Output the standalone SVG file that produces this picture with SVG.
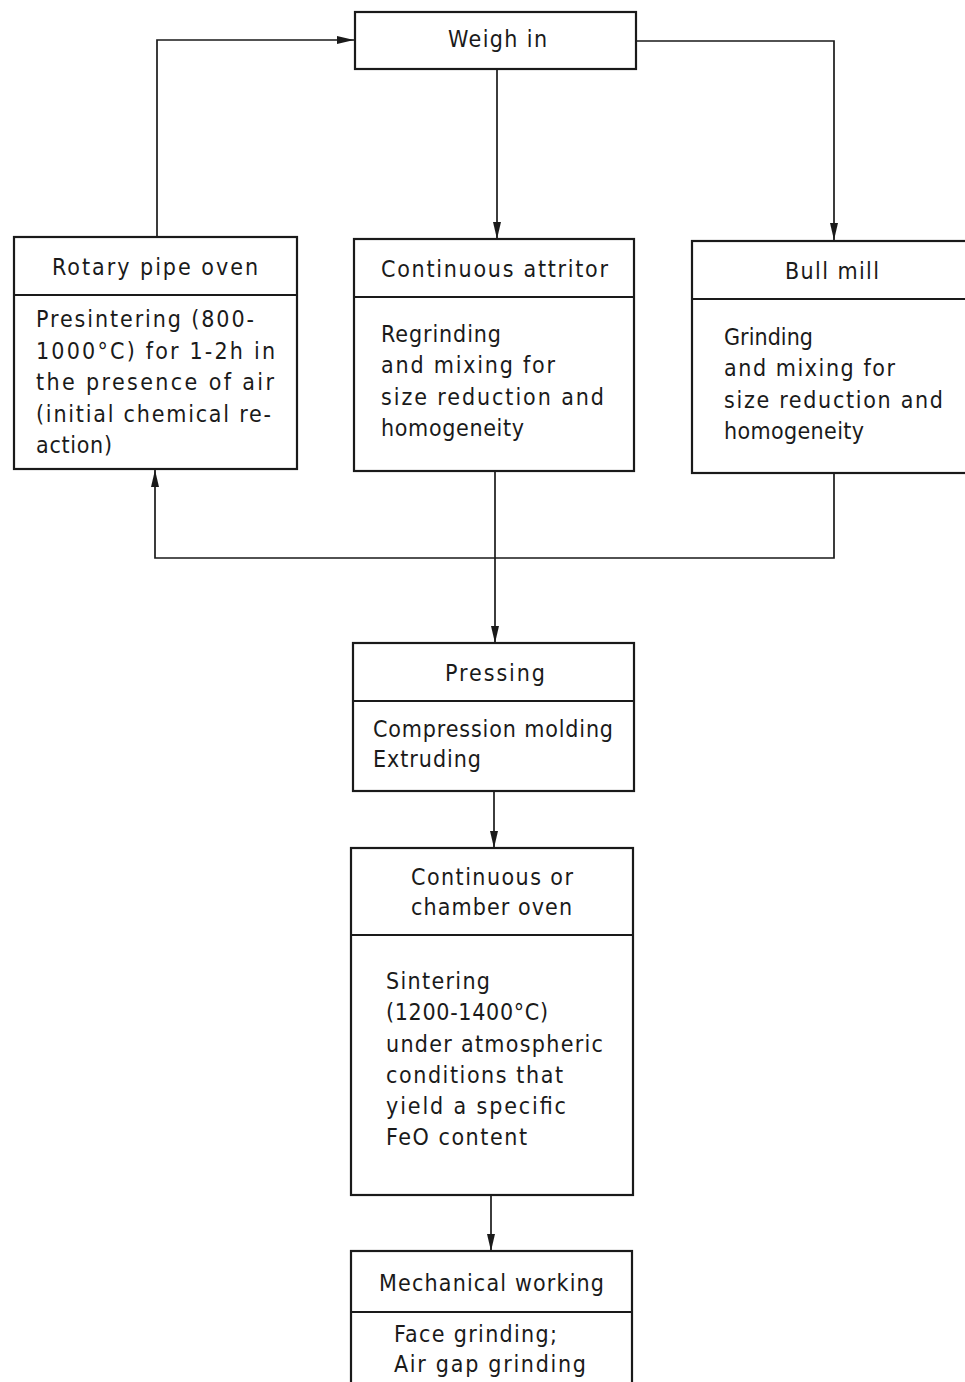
<svg xmlns="http://www.w3.org/2000/svg" width="965" height="1382" viewBox="0 0 965 1382">
<style>
.box{fill:#fff;stroke:#1a1a1a;stroke-width:2.2}
.div{stroke:#1a1a1a;stroke-width:2}
.c{fill:none;stroke:#1a1a1a;stroke-width:1.7}
text{font-family:"DejaVu Sans Condensed","DejaVu Sans","Liberation Sans",sans-serif;font-size:23px;fill:#1a1a1a}
</style>
<defs>
<marker id="ah" markerUnits="userSpaceOnUse" markerWidth="18" markerHeight="9" refX="17" refY="4.5" orient="auto">
<path d="M0,0.5 L17,4.5 L0,8.5 z" fill="#1a1a1a"/>
</marker>
</defs>
<rect width="965" height="1382" fill="#fff"/>
<g id="connectors">
<polyline class="c" points="157,237 157,40 354,40" marker-end="url(#ah)"/>
<polyline class="c" points="636,41 834,41 834,240" marker-end="url(#ah)"/>
<line class="c" x1="497" y1="69" x2="497" y2="239" marker-end="url(#ah)"/>
<line class="c" x1="495" y1="471" x2="495" y2="643" marker-end="url(#ah)"/>
<polyline class="c" points="834,473 834,558 155,558 155,470" marker-end="url(#ah)"/>
<line class="c" x1="494" y1="791" x2="494" y2="848" marker-end="url(#ah)"/>
<line class="c" x1="491" y1="1195" x2="491" y2="1251" marker-end="url(#ah)"/>
</g>
<g id="weigh-in">
<rect class="box" x="355" y="12" width="281" height="57"/>
<text x="448" y="47" textLength="99" lengthAdjust="spacing">Weigh in</text>
</g>
<g id="rotary-pipe-oven">
<rect class="box" x="14" y="237" width="283" height="232"/>
<line class="div" x1="14" y1="295" x2="297" y2="295"/>
<text x="52" y="275" textLength="206" lengthAdjust="spacing">Rotary pipe oven</text>
<text x="36" y="327" textLength="218" lengthAdjust="spacing">Presintering (800-</text>
<text x="36" y="359" textLength="239" lengthAdjust="spacing">1000°C) for 1-2h in</text>
<text x="36" y="390" textLength="238" lengthAdjust="spacing">the presence of air</text>
<text x="36" y="422" textLength="235" lengthAdjust="spacing">(initial chemical re-</text>
<text x="36" y="453" textLength="76" lengthAdjust="spacing">action)</text>
</g>
<g id="continuous-attritor">
<rect class="box" x="354" y="239" width="280" height="232"/>
<line class="div" x1="354" y1="297" x2="634" y2="297"/>
<text x="381" y="277" textLength="227" lengthAdjust="spacing">Continuous attritor</text>
<text x="381" y="342" textLength="120" lengthAdjust="spacing">Regrinding</text>
<text x="381" y="373" textLength="174" lengthAdjust="spacing">and mixing for</text>
<text x="381" y="405" textLength="223" lengthAdjust="spacing">size reduction and</text>
<text x="381" y="436" textLength="143" lengthAdjust="spacing">homogeneity</text>
</g>
<g id="bull-mill">
<rect class="box" x="692" y="241" width="280" height="232"/>
<line class="div" x1="692" y1="299" x2="972" y2="299"/>
<text x="785" y="279" textLength="94" lengthAdjust="spacing">Bull mill</text>
<text x="724" y="345" textLength="89" lengthAdjust="spacing">Grinding</text>
<text x="724" y="376" textLength="171" lengthAdjust="spacing">and mixing for</text>
<text x="724" y="408" textLength="219" lengthAdjust="spacing">size reduction and</text>
<text x="724" y="439" textLength="140" lengthAdjust="spacing">homogeneity</text>
</g>
<g id="pressing">
<rect class="box" x="353" y="643" width="281" height="148"/>
<line class="div" x1="353" y1="701" x2="634" y2="701"/>
<text x="445" y="681" textLength="100" lengthAdjust="spacing">Pressing</text>
<text x="373" y="737" textLength="240" lengthAdjust="spacing">Compression molding</text>
<text x="373" y="767" textLength="108" lengthAdjust="spacing">Extruding</text>
</g>
<g id="chamber-oven">
<rect class="box" x="351" y="848" width="282" height="347"/>
<line class="div" x1="351" y1="935" x2="633" y2="935"/>
<text x="411" y="885" textLength="162" lengthAdjust="spacing">Continuous or</text>
<text x="411" y="915" textLength="161" lengthAdjust="spacing">chamber oven</text>
<text x="386" y="989" textLength="104" lengthAdjust="spacing">Sintering</text>
<text x="386" y="1020" textLength="162" lengthAdjust="spacing">(1200-1400°C)</text>
<text x="386" y="1052" textLength="217" lengthAdjust="spacing">under atmospheric</text>
<text x="386" y="1083" textLength="177" lengthAdjust="spacing">conditions that</text>
<text x="386" y="1114" textLength="180" lengthAdjust="spacing">yield a specific</text>
<text x="386" y="1145" textLength="141" lengthAdjust="spacing">FeO content</text>
</g>
<g id="mechanical-working">
<rect class="box" x="351" y="1251" width="281" height="150"/>
<line class="div" x1="351" y1="1312" x2="632" y2="1312"/>
<text x="379" y="1291" textLength="225" lengthAdjust="spacing">Mechanical working</text>
<text x="394" y="1342" textLength="163" lengthAdjust="spacing">Face grinding;</text>
<text x="394" y="1372" textLength="192" lengthAdjust="spacing">Air gap grinding</text>
</g>
</svg>
